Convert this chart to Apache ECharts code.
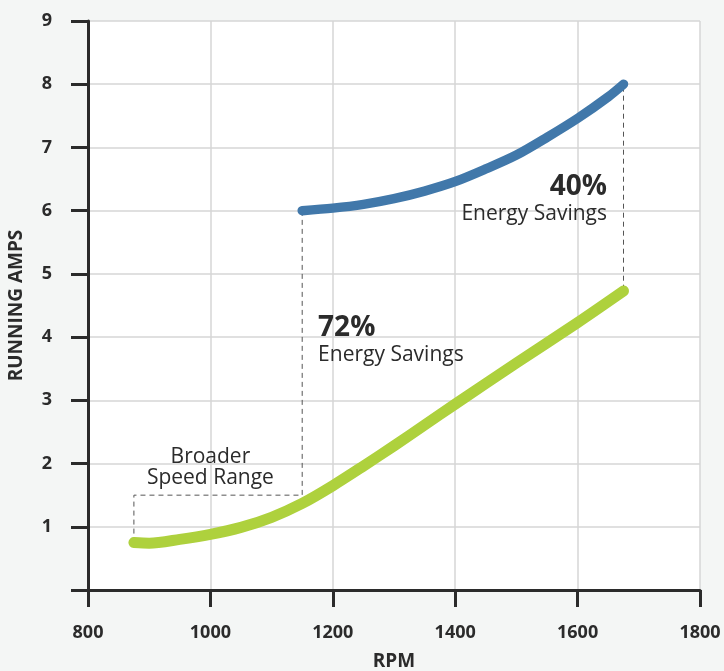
<!DOCTYPE html>
<html>
<head>
<meta charset="utf-8">
<style>
html,body{margin:0;padding:0;background:#f4f6f5;}
#c{width:724px;height:671px;}
</style>
<script src="https://cdn.jsdelivr.net/npm/echarts@6/dist/echarts.min.js"></script>
</head>
<body>
<div id="c"></div>
<script>
// Data
const xTicks = [800, 1000, 1200, 1400, 1600, 1800];
const yTicks = [1, 2, 3, 4, 5, 6, 7, 8, 9];
const blueRpm = [1150, 1200, 1250, 1300, 1350, 1400, 1450, 1500, 1550, 1600, 1650, 1675];
const blueAmps = [6.0, 6.04, 6.1, 6.19, 6.31, 6.46, 6.66, 6.88, 7.16, 7.46, 7.8, 8.0];
const greenRpm = [875, 900, 950, 1000, 1050, 1100, 1150, 1200, 1250, 1300, 1350, 1400, 1500, 1600, 1675];
const greenAmps = [0.75, 0.74, 0.8, 0.88, 0.99, 1.15, 1.37, 1.65, 1.96, 2.28, 2.61, 2.94, 3.59, 4.23, 4.73];
const dashA = [[875, 0.75], [875, 1.5], [1150, 1.5], [1150, 6.0]];
const dashB = [[1675, 4.75], [1675, 8.0]];
const notes = [
  {text: 'Broader', at: [1000, 2.1], align: 'center', bold: false},
  {text: 'Speed Range', at: [1000, 1.77], align: 'center', bold: false},
  {text: '72%', at: [1176, 4.14], align: 'left', bold: true},
  {text: 'Energy Savings', at: [1176, 3.71], align: 'left', bold: false},
  {text: '40%', at: [1648, 6.38], align: 'right', bold: true},
  {text: 'Energy Savings', at: [1648, 5.94], align: 'right', bold: false}
];

const zip = (a, b) => a.map((v, i) => [v, b[i]]);
const ink = '#2b2b2b';
const font = '"Open Sans", "Noto Sans", sans-serif';

const chart = echarts.init(document.getElementById('c'));
chart.setOption({
  backgroundColor: '#f4f6f5',
  animation: false,
  textStyle: {fontFamily: font},
  grid: {left: 88, right: 24, top: 21, bottom: 81, show: true, backgroundColor: '#ffffff', borderWidth: 0,
    containLabel: false, outerBoundsMode: 'none'},
  xAxis: {
    type: 'value', min: xTicks[0], max: xTicks[xTicks.length - 1], interval: 200,
    name: 'RPM', nameLocation: 'middle', nameGap: 62,
    nameTextStyle: {color: ink, fontSize: 19, fontWeight: 'bold', fontFamily: font},
    axisLine: {lineStyle: {color: ink, width: 3}},
    axisTick: {show: true, length: 17, lineStyle: {color: ink, width: 3}},
    axisLabel: {color: ink, fontSize: 18, fontWeight: 'bold', margin: 34, fontFamily: font,
      formatter: v => String(v)},
    splitLine: {show: true, lineStyle: {color: '#d6d6d6', width: 1.5}}
  },
  yAxis: {
    type: 'value', min: 0, max: yTicks[yTicks.length - 1], interval: 1,
    name: 'RUNNING AMPS', nameLocation: 'middle', nameGap: 62,
    nameTextStyle: {color: ink, fontSize: 19, fontWeight: 'bold', fontFamily: font},
    axisLine: {show: true, lineStyle: {color: ink, width: 3}},
    axisTick: {show: true, length: 17, lineStyle: {color: ink, width: 3}},
    axisLabel: {color: ink, fontSize: 18, fontWeight: 'bold', margin: 36, fontFamily: font,
      formatter: v => (yTicks.indexOf(v) >= 0 ? String(v) : '')},
    splitLine: {show: true, lineStyle: {color: '#d6d6d6', width: 1.5}}
  },
  series: [
    {type: 'line', data: dashA, symbol: 'none', silent: true, z: 1,
      lineStyle: {color: '#555', width: 1, type: [5, 4]}},
    {type: 'line', data: dashB, symbol: 'none', silent: true, z: 1,
      lineStyle: {color: '#555', width: 1, type: [5, 4]}},
    {type: 'line', data: zip(greenRpm, greenAmps), smooth: 0.3, symbol: 'none', z: 3,
      lineStyle: {color: '#aed13d', width: 11, cap: 'round', join: 'round'}},
    {type: 'line', data: zip(blueRpm, blueAmps), smooth: 0.3, symbol: 'none', z: 3,
      lineStyle: {color: '#4178aa', width: 9.5, cap: 'round', join: 'round'}}
  ]
});

const graphics = notes.map(n => {
  const p = chart.convertToPixel({gridIndex: 0}, n.at);
  return {
    type: 'text', x: p[0], y: p[1], z: 10,
    style: {
      text: n.text, fill: ink, align: n.align, verticalAlign: 'middle',
      font: (n.bold ? 'bold 28px ' : '21px ') + font
    }
  };
});
chart.setOption({graphic: graphics});
</script>
</body>
</html>
